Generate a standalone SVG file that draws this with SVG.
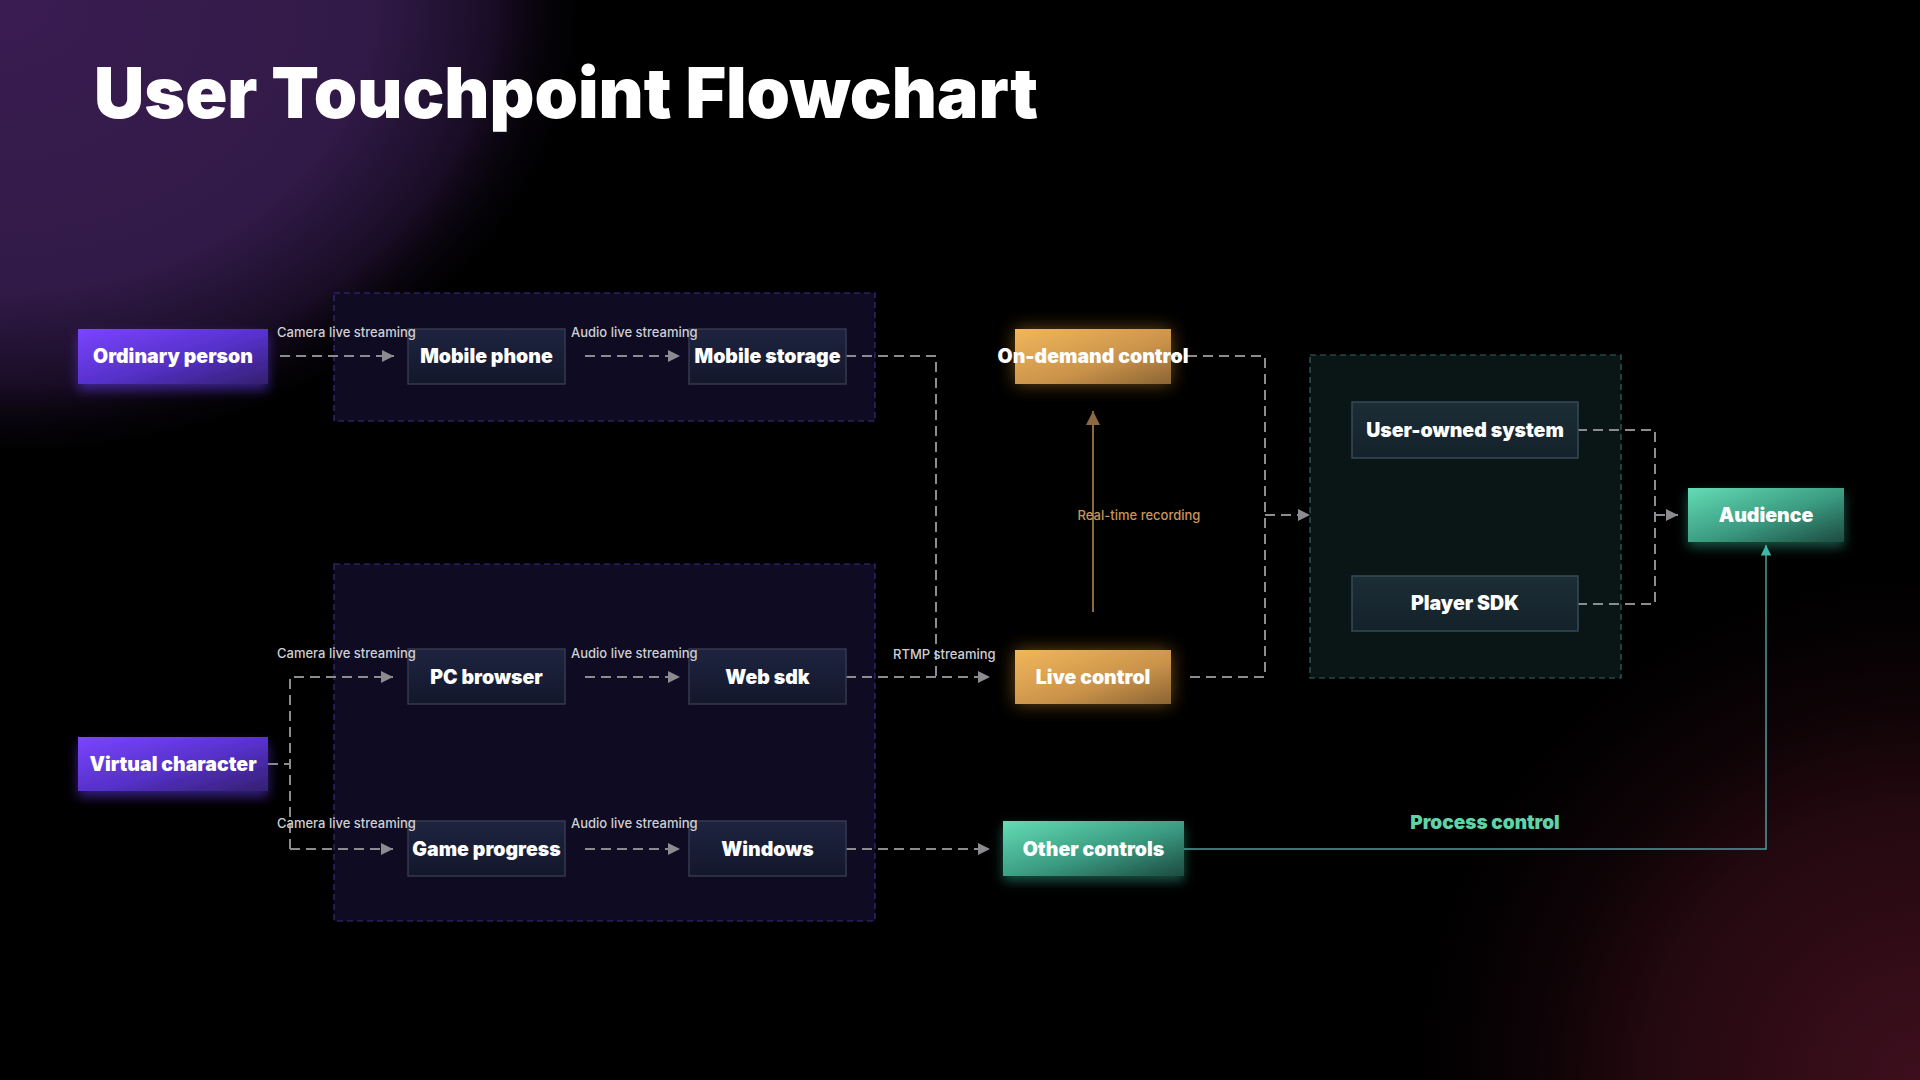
<svg xmlns="http://www.w3.org/2000/svg" width="1920" height="1080" viewBox="0 0 1920 1080">
<style>
.title{font-family:Inter,"Noto Sans",sans-serif;font-weight:900;font-size:70px;fill:#fff}
.nl{font-family:Inter,"Noto Sans",sans-serif;font-weight:900;font-size:19.5px;fill:#fff;text-anchor:middle}
.lbl{font-family:Inter,"Noto Sans",sans-serif;font-weight:500;font-size:13px;fill:#cfcfd4}
.dash{fill:none;stroke:#8c8c90;stroke-width:2;stroke-dasharray:10 6}
.dark{fill:url(#gDark);stroke:#343a50;stroke-width:1.5}
.darkT{fill:url(#gDarkT);stroke:#36495a;stroke-width:1.5}
.grpP{fill:#0e0b22;stroke:#3b2c7e;stroke-width:1.2;stroke-dasharray:6 4}
.grpT{fill:#0a1516;stroke:#356663;stroke-width:1.2;stroke-dasharray:6 4}
</style>
<defs>
<radialGradient id="bgP" gradientUnits="userSpaceOnUse" cx="0" cy="0" r="600" gradientTransform="scale(1,0.78)">
<stop offset="0" stop-color="#3a1c52"/>
<stop offset="0.62" stop-color="#311a47"/>
<stop offset="0.82" stop-color="#1a0d27"/>
<stop offset="1" stop-color="#000" stop-opacity="0"/>
</radialGradient>
<radialGradient id="bgR" gradientUnits="userSpaceOnUse" cx="1920" cy="1080" r="560">
<stop offset="0" stop-color="#3e0f1e"/>
<stop offset="0.5" stop-color="#22080f"/>
<stop offset="1" stop-color="#000" stop-opacity="0"/>
</radialGradient>
<linearGradient id="gPur" x1="0" y1="0" x2="1" y2="1">
<stop offset="0" stop-color="#7a45ff"/>
<stop offset="0.55" stop-color="#5530c8"/>
<stop offset="1" stop-color="#33206e"/>
</linearGradient>
<linearGradient id="gOr" x1="0" y1="0" x2="1" y2="1">
<stop offset="0" stop-color="#f2b75a"/>
<stop offset="0.6" stop-color="#c9924a"/>
<stop offset="1" stop-color="#8a6433"/>
</linearGradient>
<linearGradient id="gTe" x1="0" y1="0" x2="1" y2="1">
<stop offset="0" stop-color="#63dcb4"/>
<stop offset="0.55" stop-color="#3a9a80"/>
<stop offset="1" stop-color="#1d4a40"/>
</linearGradient>
<linearGradient id="gDark" x1="0" y1="0" x2="0" y2="1">
<stop offset="0" stop-color="#1e2440"/>
<stop offset="1" stop-color="#13172c"/>
</linearGradient>
<linearGradient id="gDarkT" x1="0" y1="0" x2="0" y2="1">
<stop offset="0" stop-color="#1c2d36"/>
<stop offset="1" stop-color="#14222a"/>
</linearGradient>
<filter id="gP" x="-30%" y="-40%" width="160%" height="200%">
<feGaussianBlur in="SourceAlpha" stdDeviation="6" result="b"/>
<feOffset in="b" dy="6" result="o"/>
<feFlood flood-color="#6a3cff" flood-opacity="0.5"/>
<feComposite in2="o" operator="in" result="s"/>
<feMerge><feMergeNode in="s"/><feMergeNode in="SourceGraphic"/></feMerge>
</filter>
<filter id="gO" x="-30%" y="-50%" width="160%" height="200%">
<feGaussianBlur in="SourceAlpha" stdDeviation="9" result="b"/>
<feFlood flood-color="#f0a030" flood-opacity="0.45"/>
<feComposite in2="b" operator="in" result="s"/>
<feMerge><feMergeNode in="s"/><feMergeNode in="SourceGraphic"/></feMerge>
</filter>
<filter id="gT" x="-30%" y="-40%" width="160%" height="200%">
<feGaussianBlur in="SourceAlpha" stdDeviation="6" result="b"/>
<feOffset in="b" dy="5" result="o"/>
<feFlood flood-color="#3fd0a8" flood-opacity="0.4"/>
<feComposite in2="o" operator="in" result="s"/>
<feMerge><feMergeNode in="s"/><feMergeNode in="SourceGraphic"/></feMerge>
</filter>
<marker id="aG" viewBox="0 0 10 10" refX="10" refY="5" markerWidth="6" markerHeight="6" orient="auto" markerUnits="strokeWidth">
<path d="M0 0 L10 5 L0 10 Z" fill="#8c8c90"/>
</marker>
<marker id="aO" viewBox="0 0 10 10" refX="10" refY="5" markerWidth="7" markerHeight="7" orient="auto" markerUnits="strokeWidth">
<path d="M0 0 L10 5 L0 10 Z" fill="#8a6a3e"/>
</marker>
<marker id="aT" viewBox="0 0 10 10" refX="10" refY="5" markerWidth="7" markerHeight="7" orient="auto" markerUnits="strokeWidth">
<path d="M0 0 L10 5 L0 10 Z" fill="#3fb5a8"/>
</marker>
</defs>

<rect width="1920" height="1080" fill="#000"/>
<rect width="1920" height="1080" fill="url(#bgP)"/>
<rect width="1920" height="1080" fill="url(#bgR)"/>

<text class="title" x="94" y="118" textLength="944" lengthAdjust="spacingAndGlyphs">User Touchpoint Flowchart</text>

<g id="group-mobile"><rect class="grpP" x="334" y="293" width="541" height="128"/></g>
<g id="group-pc"><rect class="grpP" x="334" y="564" width="541" height="357"/></g>
<g id="group-player"><rect class="grpT" x="1310" y="355" width="311" height="323"/></g>

<g id="connectors">
<path class="dash" d="M280 356 H394" marker-end="url(#aG)"/>
<path class="dash" d="M585 356 H680" marker-end="url(#aG)"/>
<path class="dash" d="M846 356 H936 V677"/>
<path class="dash" d="M846 677 H990" marker-end="url(#aG)"/>
<path class="dash" d="M268 764 H290"/>
<path class="dash" d="M290 849 V677 H393" marker-end="url(#aG)"/>
<path class="dash" d="M290 849 H393" marker-end="url(#aG)"/>
<path class="dash" d="M585 677 H680" marker-end="url(#aG)"/>
<path class="dash" d="M585 849 H680" marker-end="url(#aG)"/>
<path class="dash" d="M846 849 H990" marker-end="url(#aG)"/>
<path class="dash" d="M1171 356 H1265 V677 H1186"/>
<path class="dash" d="M1265 515 H1310" marker-end="url(#aG)"/>
<path class="dash" d="M1577 430 H1655 V604 H1575"/>
<path class="dash" d="M1655 515 H1678" marker-end="url(#aG)"/>
<path d="M1093 612 V411" fill="none" stroke="#8a6a3e" stroke-width="2" marker-end="url(#aO)"/>
<path d="M1184 849 H1766 V545" fill="none" stroke="#4f9a9a" stroke-width="1.5" marker-end="url(#aT)"/>
</g>

<g id="ordinary-person"><rect x="78" y="329" width="190" height="55" fill="url(#gPur)" filter="url(#gP)"/><text class="nl" x="173" y="363">Ordinary person</text></g>
<g id="virtual-character"><rect x="78" y="737" width="190" height="54" fill="url(#gPur)" filter="url(#gP)"/><text class="nl" x="173" y="771">Virtual character</text></g>
<g id="mobile-phone"><rect class="dark" x="408" y="329" width="157" height="55"/><text class="nl" x="486.5" y="363">Mobile phone</text></g>
<g id="mobile-storage"><rect class="dark" x="689" y="329" width="157" height="55"/><text class="nl" x="767.5" y="363">Mobile storage</text></g>
<g id="pc-browser"><rect class="dark" x="408" y="649" width="157" height="55"/><text class="nl" x="486.5" y="684">PC browser</text></g>
<g id="web-sdk"><rect class="dark" x="689" y="649" width="157" height="55"/><text class="nl" x="767.5" y="684">Web sdk</text></g>
<g id="game-progress"><rect class="dark" x="408" y="821" width="157" height="55"/><text class="nl" x="486.5" y="856">Game progress</text></g>
<g id="windows"><rect class="dark" x="689" y="821" width="157" height="55"/><text class="nl" x="767.5" y="856">Windows</text></g>
<g id="on-demand-control"><rect x="1015" y="329" width="156" height="55" fill="url(#gOr)" filter="url(#gO)"/><text class="nl" x="1093" y="363">On-demand control</text></g>
<g id="live-control"><rect x="1015" y="650" width="156" height="54" fill="url(#gOr)" filter="url(#gO)"/><text class="nl" x="1093" y="684">Live control</text></g>
<g id="other-controls"><rect x="1003" y="821" width="181" height="55" fill="url(#gTe)" filter="url(#gT)"/><text class="nl" x="1093.5" y="856">Other controls</text></g>
<g id="user-owned-system"><rect class="darkT" x="1352" y="402" width="226" height="56"/><text class="nl" x="1465" y="437">User-owned system</text></g>
<g id="player-sdk"><rect class="darkT" x="1352" y="576" width="226" height="55"/><text class="nl" x="1465" y="610">Player SDK</text></g>
<g id="audience"><rect x="1688" y="488" width="156" height="54" fill="url(#gTe)" filter="url(#gT)"/><text class="nl" x="1766" y="522">Audience</text></g>

<g id="connector-labels">
<text class="lbl" x="277" y="337">Camera live streaming</text>
<text class="lbl" x="571" y="337">Audio live streaming</text>
<text class="lbl" x="277" y="658">Camera live streaming</text>
<text class="lbl" x="571" y="658">Audio live streaming</text>
<text class="lbl" x="277" y="828">Camera live streaming</text>
<text class="lbl" x="571" y="828">Audio live streaming</text>
<text class="lbl" x="893" y="659">RTMP streaming</text>
<text x="1139" y="520" text-anchor="middle" font-family="Inter,'Noto Sans',sans-serif" font-weight="500" font-size="13" fill="#c9965a">Real-time recording</text>
<text x="1485" y="829" text-anchor="middle" font-family="Inter,'Noto Sans',sans-serif" font-weight="900" font-size="19" fill="#5fd4a8">Process control</text>
</g>
</svg>
